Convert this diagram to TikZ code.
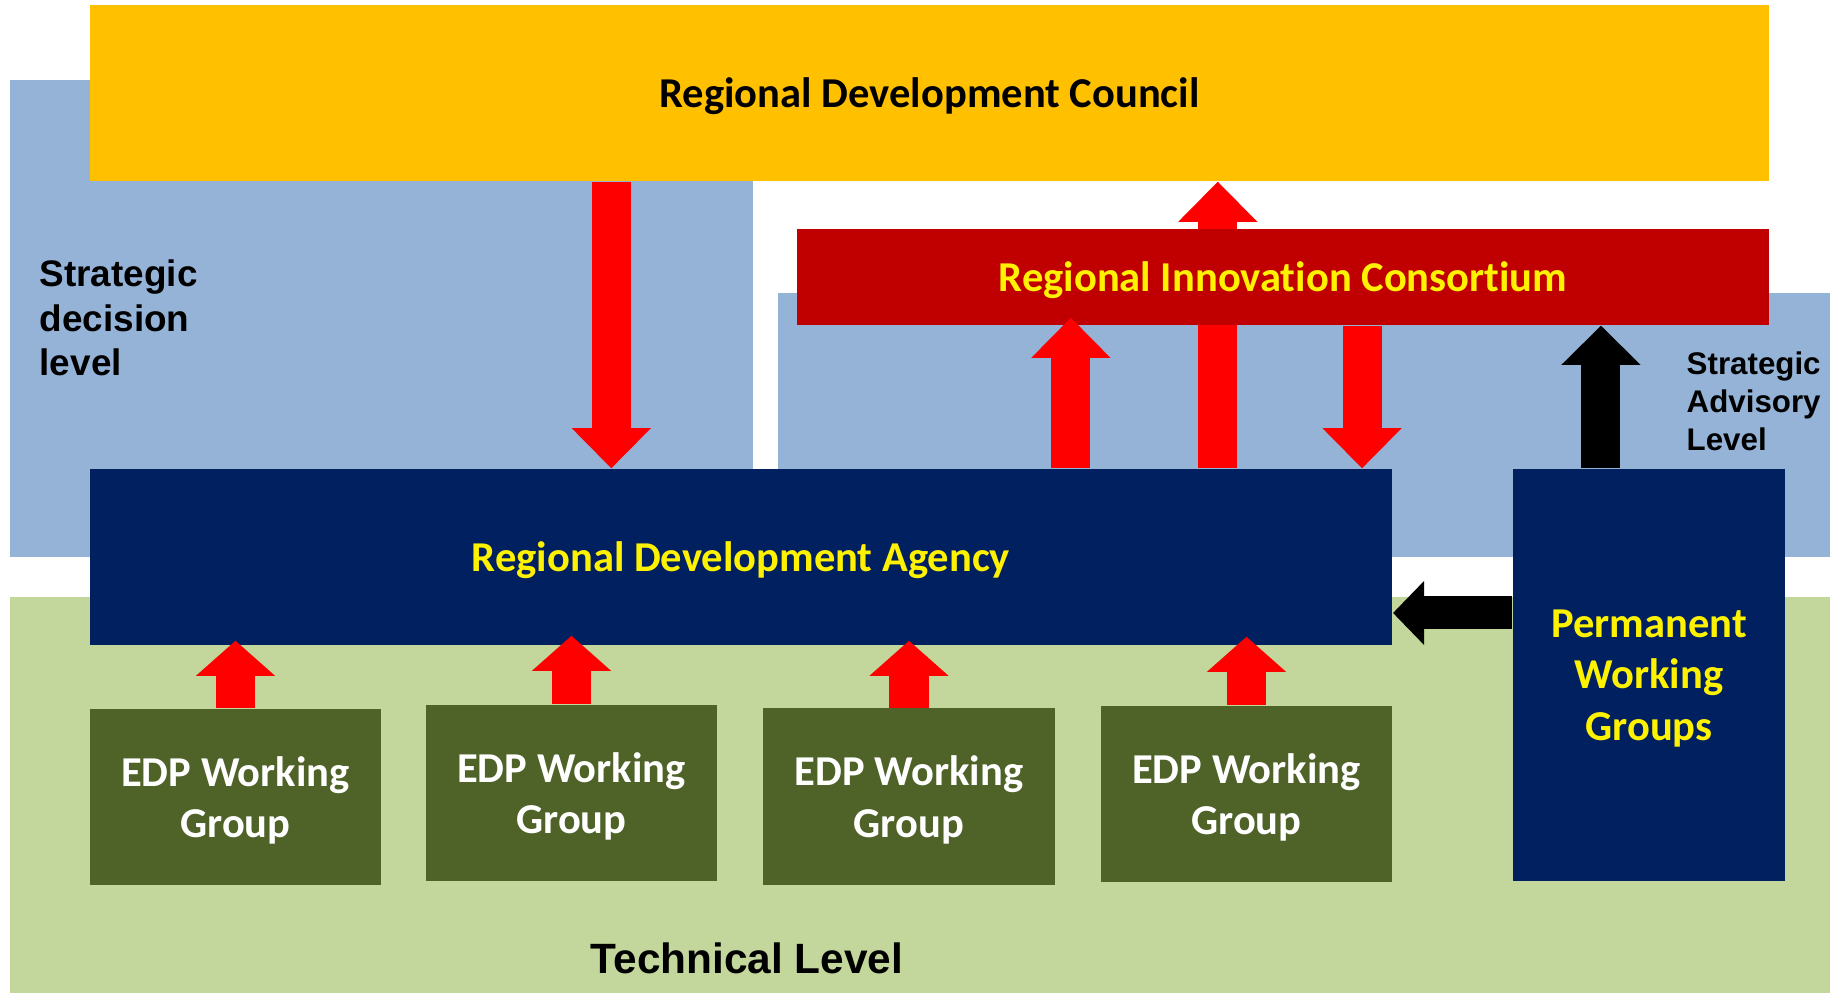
\documentclass[tikz,border=0pt]{standalone}
\usepackage{fontspec}
\setmainfont{Carlito}[Ligatures=NoCommon]
\newfontfamily\arialfont{Liberation Sans}
\usetikzlibrary{arrows.meta}

\definecolor{rdcgold}{HTML}{FFC000}
\definecolor{lvlblue}{HTML}{95B3D7}
\definecolor{lvlgreen}{HTML}{C3D69B}
\definecolor{ricred}{HTML}{C00000}
\definecolor{agencynavy}{HTML}{002060}
\definecolor{edpgreen}{HTML}{4F6228}

\tikzset{
  box/.style={inner sep=0pt,align=center,text depth=0pt,font=\bfseries\fontsize{12.1}{14.6}\selectfont},
  edpbox/.style={box,fill=edpgreen,text=white,minimum width=2.91cm,minimum height=1.76cm},
  lvltext/.style={inner sep=0pt,align=left,font=\arialfont\bfseries},
  redarrow/.style={draw=red,line width=0.39cm,-{Triangle[length=0.4cm,width=0.79cm,line width=0pt]}},
  edparrow/.style={draw=red,line width=0.39cm,-{Triangle[length=0.35cm,width=0.79cm,line width=0pt]}},
  blkarrow/.style={draw=black,line width=0.39cm,-{Triangle[length=0.39cm,width=0.79cm,line width=0pt]}},
  sidearrow/.style={draw=black,line width=0.33cm,-{Triangle[length=0.31cm,width=0.64cm,line width=0pt]}}
}

\begin{document}
\begin{tikzpicture}[x=0.01cm,y=-0.01cm]
\useasboundingbox (0,0) rectangle (1841,993);
% levels
\fill[lvlblue] (10,80) rectangle (753,557);
\fill[lvlblue] (778,293) rectangle (1830,557);
\fill[lvlgreen] (10,597) rectangle (1830,993);
\node[lvltext,anchor=north west,font=\arialfont\bfseries\fontsize{10.5}{12.6}\selectfont] (sdl) at (39,259.5) {Strategic\\decision\\level};
\node[lvltext,anchor=north west,font=\arialfont\bfseries\fontsize{8.9}{10.8}\selectfont] (sal) at (1686,351.5) {Strategic\\Advisory\\Level};
\node[lvltext,font=\arialfont\bfseries\fontsize{12.05}{14}\selectfont] (tl) at (747,958.5) {Technical Level};

% council and agency
\node[box,fill=rdcgold,minimum width=16.79cm,minimum height=1.76cm] (rdc) at (929.5,93) {Regional Development Council};
\node[box,fill=agencynavy,text=yellow,minimum width=13.02cm,minimum height=1.76cm] (rda) at (741,557) {Regional Development Agency};
\draw[redarrow] ([xshift=4.765cm]rda.north) -- ([xshift=4.765cm]rda.north |- rdc.south);

% consortium
\node[box,fill=ricred,text=yellow,minimum width=9.72cm,minimum height=0.96cm] (ric) at (1283,277) {Regional Innovation Consortium};
\draw[redarrow] ([xshift=-3.18cm]rdc.south) -- ([xshift=-3.18cm]rdc.south |- rda.north);
\draw[redarrow] ([xshift=-2.12cm]ric.south |- rda.north) -- ([xshift=-2.12cm,yshift=0.08cm]ric.south);
\draw[redarrow] ([xshift=0.79cm]ric.south) -- ([xshift=0.79cm]ric.south |- rda.north);

% permanent groups
\node[box,fill=agencynavy,text=yellow,minimum width=2.72cm,minimum height=4.12cm] (pwg) at (1649,675) {Permanent\\Working\\Groups};
\draw[blkarrow] ([xshift=-0.48cm]pwg.north) -- ([xshift=-0.48cm]pwg.north |- ric.south);
\coordinate (pwgw) at ([yshift=0.62cm]pwg.west);
\draw[sidearrow] (pwgw) -- (pwgw -| rda.east);

% EDP working groups
\node[edpbox] (edp1) at (235.5,797) {EDP Working\\Group};
\node[edpbox] (edp2) at (571.5,793) {EDP Working\\Group};
\node[edpbox] (edp3) at (909,796.5) {EDP Working\\Group};
\node[edpbox] (edp4) at (1246.5,794) {EDP Working\\Group};
\draw[edparrow] (edp1.north) -- ([yshift=0.05cm]edp1.north |- rda.south);
\draw[edparrow] (edp2.north) -- ([yshift=0.10cm]edp2.north |- rda.south);
\draw[edparrow] (edp3.north) -- ([yshift=0.05cm]edp3.north |- rda.south);
\draw[edparrow] (edp4.north) -- ([yshift=0.09cm]edp4.north |- rda.south);

\end{tikzpicture}
\end{document}
